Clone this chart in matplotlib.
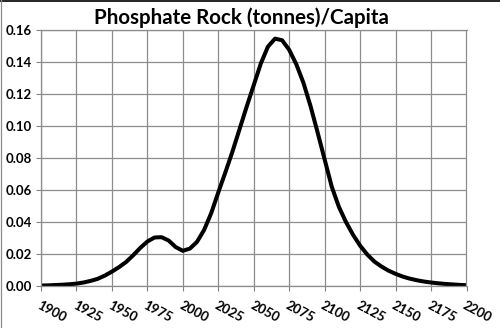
import matplotlib
matplotlib.use("Agg")
import matplotlib.pyplot as plt
from matplotlib.lines import Line2D

# phosphate rock per person, tonnes, every 5 years
years = [1900, 1905, 1910, 1915, 1920, 1925, 1930, 1935, 1940, 1945,
         1950, 1955, 1960, 1965, 1970, 1975, 1980, 1985, 1990, 1995,
         2000, 2005, 2010, 2015, 2020, 2025, 2030, 2035, 2040, 2045,
         2050, 2055, 2060, 2065, 2070, 2075, 2080, 2085, 2090, 2095,
         2100, 2105, 2110, 2115, 2120, 2125, 2130, 2135, 2140, 2145,
         2150, 2155, 2160, 2165, 2170, 2175, 2180, 2185, 2190, 2195, 2200]
per_capita = [0.0003, 0.0004, 0.0006, 0.0008, 0.0011, 0.0015, 0.0022, 0.0032, 0.0045, 0.0065,
              0.0090, 0.0118, 0.0150, 0.0192, 0.0238, 0.0278, 0.0303, 0.0305, 0.0284, 0.0243,
              0.0220, 0.0234, 0.0276, 0.0350, 0.0455, 0.0585, 0.0710, 0.0840, 0.0980, 0.1120,
              0.1255, 0.1390, 0.1495, 0.1545, 0.1535, 0.1475, 0.1385, 0.1270, 0.1125, 0.0960,
              0.0790, 0.0620, 0.0495, 0.0400, 0.0320, 0.0252, 0.0197, 0.0153, 0.0122, 0.0096,
              0.0076, 0.0059, 0.0046, 0.0036, 0.0028, 0.0022, 0.0017, 0.0013, 0.0010, 0.0007, 0.0005]

xticks = list(range(1900, 2201, 25))
yticks = [0.00, 0.02, 0.04, 0.06, 0.08, 0.10, 0.12, 0.14, 0.16]

plt.rcParams['font.family'] = ['Lato', 'DejaVu Sans']

fig = plt.figure(figsize=(5.0, 3.28), dpi=100)
ax = fig.add_axes([0.082, 0.128, 0.851, 0.781])

ax.plot(years, per_capita, color='black', linewidth=2.9,
        solid_joinstyle='round', solid_capstyle='butt')

ax.set_xlim(1900, 2200)
ax.set_ylim(0, 0.16)
ax.set_xticks(xticks)
ax.set_yticks(yticks)
ax.set_yticklabels([f"{v:.2f}" for v in yticks], fontsize=9.5, fontweight='bold')
ax.set_xticklabels([str(v) for v in xticks], fontsize=9.5, fontweight='bold',
                   rotation=-28, ha='left', va='top', rotation_mode='anchor')
ax.tick_params(axis='both', direction='out', length=3.5, width=0.8, color='#808080', pad=3)
ax.tick_params(axis='x', pad=6)

ax.grid(True, color='#8c8c8c', linewidth=0.9)
ax.set_axisbelow(True)
for side in ax.spines.values():
    side.set_color('#8c8c8c')
    side.set_linewidth(0.9)

fig.text(0.482, 0.946, "Phosphate Rock (tonnes)/Capita", ha='center', va='center',
         fontsize=14.8, fontweight='bold')

# frame lines along the top and left edges of the figure
fig.add_artist(Line2D([0, 1], [0.998, 0.998], transform=fig.transFigure, color='black', linewidth=1.2))
fig.add_artist(Line2D([0.001, 0.001], [0, 1], transform=fig.transFigure, color='#8c8c8c', linewidth=0.9))

fig.savefig("out.png", dpi=100)
